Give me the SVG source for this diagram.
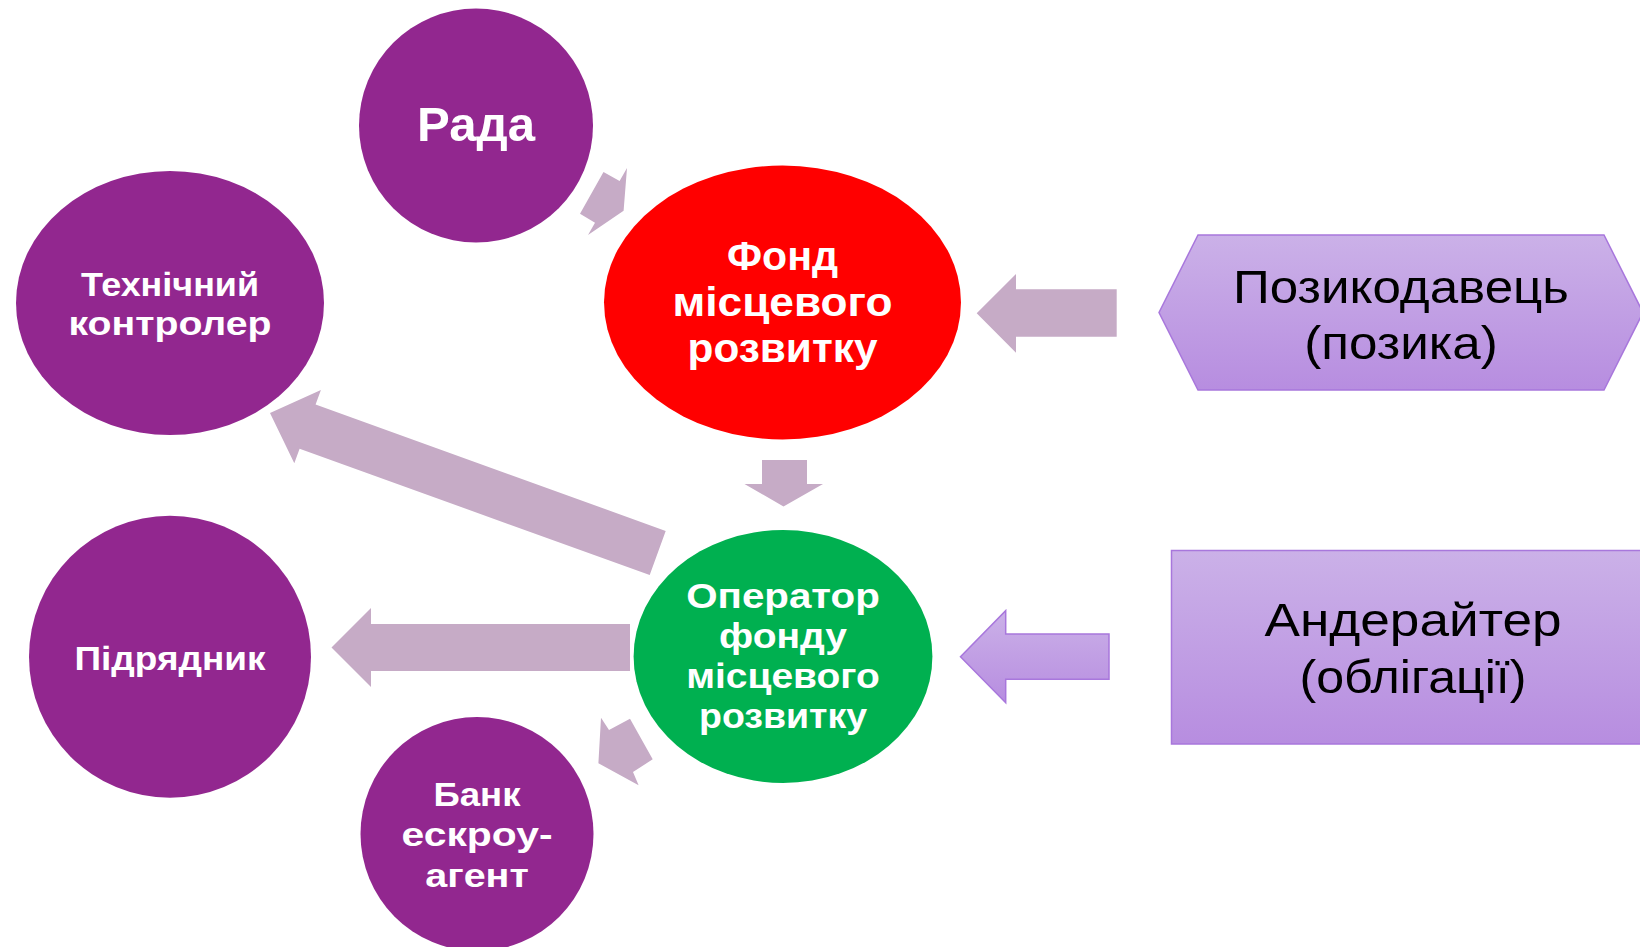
<svg xmlns="http://www.w3.org/2000/svg" width="1640" height="947" viewBox="0 0 1640 947">
  <defs>
    <linearGradient id="lav" x1="0" y1="0" x2="0" y2="1">
      <stop offset="0" stop-color="#CBB1E8"/>
      <stop offset="1" stop-color="#B78DE0"/>
    </linearGradient>
    <style>
      .arrow { fill: #C6ABC6; stroke: none; }
      .purple { fill: #92278F; }
      .wt { fill: #FFFFFF; font-family: "Liberation Sans", "DejaVu Sans", sans-serif; font-weight: bold; text-anchor: middle; }
      .bk { fill: #000000; font-family: "Liberation Sans", "DejaVu Sans", sans-serif; font-weight: normal; text-anchor: middle; }
      .lavbox { fill: url(#lav); stroke: #A877DC; stroke-width: 1.5; }
    </style>
  </defs>
  <rect width="1640" height="947" fill="#FFFFFF"/>

  <g id="connectors">
    <!-- Рада -> Фонд -->
    <polygon class="arrow" points="603.5,172 619.6,181 627,168 623.6,210.7 588,235 595,222.7 580,213.7"/>
    <!-- Позикодавець -> Фонд -->
    <polygon class="arrow" points="1116.7,289.3 1016,289.3 1016,274 976.7,313.3 1016,352.7 1016,336.7 1116.7,336.7"/>
    <!-- Фонд -> Оператор -->
    <polygon class="arrow" points="762,460 807,460 807,484 823,484 783.5,506.5 744.5,484 762,484"/>
    <!-- Оператор -> Технічний контролер -->
    <polygon class="arrow" points="665.7,530.9 315.6,404.5 320.9,389.9 270,413 294.3,463.3 299.6,448.7 649.7,575.1"/>
    <!-- Оператор -> Підрядник -->
    <polygon class="arrow" points="630,624 371,624 371,608 331.5,647.5 371,687 371,671 630,671"/>
    <!-- Оператор -> Банк -->
    <polygon class="arrow" points="630,718.7 609,730 601,717.7 598.4,763.3 638.6,785.3 633,772 652.7,759.3"/>
    <!-- Андерайтер -> Оператор -->
    <polygon class="lavbox" points="1109,634 1005.7,634 1005.7,610.7 960.5,656.7 1005.7,702.7 1005.7,679.3 1109,679.3"/>
  </g>

  <g id="rada">
    <ellipse class="purple" cx="476" cy="125.5" rx="117" ry="117"/>
    <text class="wt" x="476" y="141" font-size="48" textLength="118" lengthAdjust="spacingAndGlyphs">Рада</text>
  </g>

  <g id="tech-controller">
    <ellipse class="purple" cx="170" cy="303" rx="154" ry="132"/>
    <text class="wt" x="170" y="296" font-size="34" textLength="178" lengthAdjust="spacingAndGlyphs">Технічний</text>
    <text class="wt" x="170" y="335" font-size="34" textLength="203" lengthAdjust="spacingAndGlyphs">контролер</text>
  </g>

  <g id="fund">
    <ellipse cx="782.5" cy="302.5" rx="178.5" ry="137" fill="#FF0000"/>
    <text class="wt" x="782.5" y="270" font-size="40" textLength="111" lengthAdjust="spacingAndGlyphs">Фонд</text>
    <text class="wt" x="782.5" y="316" font-size="40" textLength="220" lengthAdjust="spacingAndGlyphs">місцевого</text>
    <text class="wt" x="782.5" y="362" font-size="40" textLength="190" lengthAdjust="spacingAndGlyphs">розвитку</text>
  </g>

  <g id="operator">
    <ellipse cx="783" cy="656.5" rx="149.4" ry="126.5" fill="#00B050"/>
    <text class="wt" x="783" y="608" font-size="35" textLength="193.5" lengthAdjust="spacingAndGlyphs">Оператор</text>
    <text class="wt" x="783" y="647.5" font-size="35" textLength="128" lengthAdjust="spacingAndGlyphs">фонду</text>
    <text class="wt" x="783" y="688" font-size="35" textLength="193.5" lengthAdjust="spacingAndGlyphs">місцевого</text>
    <text class="wt" x="783" y="728" font-size="35" textLength="168" lengthAdjust="spacingAndGlyphs">розвитку</text>
  </g>

  <g id="contractor">
    <ellipse class="purple" cx="170" cy="656.7" rx="141" ry="141"/>
    <text class="wt" x="170" y="669.5" font-size="34" textLength="191" lengthAdjust="spacingAndGlyphs">Підрядник</text>
  </g>

  <g id="escrow-bank">
    <ellipse class="purple" cx="477" cy="834" rx="116.5" ry="117"/>
    <text class="wt" x="477" y="805.5" font-size="34" textLength="87" lengthAdjust="spacingAndGlyphs">Банк</text>
    <text class="wt" x="477" y="846" font-size="34" textLength="151" lengthAdjust="spacingAndGlyphs">ескроу-</text>
    <text class="wt" x="477" y="887" font-size="34" textLength="103.5" lengthAdjust="spacingAndGlyphs">агент</text>
  </g>

  <g id="lender">
    <polygon class="lavbox" points="1159,312.5 1198,235 1604,235 1643,312.5 1604,390 1198,390"/>
    <text class="bk" x="1401" y="303" font-size="46" textLength="336" lengthAdjust="spacingAndGlyphs">Позикодавець</text>
    <text class="bk" x="1401" y="359" font-size="46" textLength="193.5" lengthAdjust="spacingAndGlyphs">(позика)</text>
  </g>

  <g id="underwriter">
    <rect class="lavbox" x="1171.5" y="550.5" width="490" height="193.5"/>
    <text class="bk" x="1413" y="636" font-size="46" textLength="297" lengthAdjust="spacingAndGlyphs">Андерайтер</text>
    <text class="bk" x="1413" y="692.5" font-size="46" textLength="227" lengthAdjust="spacingAndGlyphs">(облігації)</text>
  </g>
</svg>
